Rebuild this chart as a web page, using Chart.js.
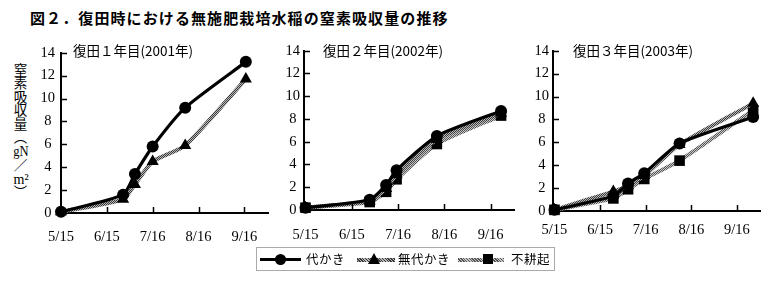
<!DOCTYPE html>
<html><head><meta charset="utf-8">
<script src="https://cdn.jsdelivr.net/npm/chart.js@4/dist/chart.umd.min.js"></script>
<style>
html,body{margin:0;padding:0;background:#fff;}
body{width:783px;height:284px;position:relative;overflow:hidden;font-family:"Noto Sans CJK JP",sans-serif;color:#000;}
#title{position:absolute;left:30px;top:7px;font-size:15px;font-weight:700;letter-spacing:1.1px;white-space:nowrap;}
.ptitle{position:absolute;top:40px;font-size:13.5px;white-space:nowrap;}
.ptitle .n{font-family:"Liberation Serif",serif;font-size:14.5px;}
#ylabel{position:absolute;left:13px;top:63px;writing-mode:vertical-rl;font-size:13.5px;line-height:1;white-space:nowrap;}
.tcy{text-combine-upright:all;font-family:"Liberation Serif",serif;font-size:14px;}
canvas{position:absolute;}
#legend{position:absolute;left:256px;top:247px;width:299px;height:24px;border:1px solid #aaa;box-sizing:border-box;}
#legend .ln{position:absolute;height:4px;top:10px;}
#legend .txt{position:absolute;top:3px;font-size:12.5px;line-height:16px;letter-spacing:0.5px;white-space:nowrap;}
#legend .mk{position:absolute;}
</style>
</head><body>
<div id="title">図２．復田時における無施肥栽培水稲の窒素吸収量の推移</div>
<div id="ylabel">窒素吸収量（<span class="tcy">gN</span>／<span class="tcy">m²</span>）</div>
<canvas id="c1" width="257" height="212" style="left:18px;top:38px"></canvas>
<canvas id="c2" width="260" height="212" style="left:262px;top:38px"></canvas>
<canvas id="c3" width="257" height="212" style="left:511px;top:38px"></canvas>
<div class="ptitle" id="t1" style="left:73px"></div>
<div class="ptitle" id="t2" style="left:323px"></div>
<div class="ptitle" id="t3" style="left:573px"></div>
<div id="legend">
  <div class="ln" style="left:3px;width:41px;background:#000;height:3px;top:10px"></div>
  <div class="mk" style="left:18px;top:6px;width:11px;height:11px;border-radius:50%;background:#000"></div>
  <div class="txt" id="lg0" style="left:49px"></div>
  <div class="ln" id="ln1" style="left:100px;width:38px"></div>
  <div class="mk" style="left:111px;top:5px;width:0;height:0;border-left:6px solid transparent;border-right:6px solid transparent;border-bottom:11px solid #000"></div>
  <div class="txt" id="lg1" style="left:141px"></div>
  <div class="ln" id="ln2" style="left:201px;width:46px"></div>
  <div class="mk" style="left:226px;top:6px;width:10px;height:10px;background:#000"></div>
  <div class="txt" id="lg2" style="left:254px"></div>
</div>
<script>
// ---- data ----
const tickDays = [0, 31, 62, 93, 124];            // days after 5/15
const tickLabels = ['5/15', '6/15', '7/16', '8/16', '9/16'];
const seriesNames = ['代かき', '無代かき', '不耕起'];
const panelTitles = ['復田１年目(2001年)', '復田２年目(2002年)', '復田３年目(2003年)'];
const yTicks = [0, 2, 4, 6, 8, 10, 12, 14];

const days2001 = [0, 42, 50, 62, 84, 125];
const shiro2001 = [0.1, 1.6, 3.4, 5.8, 9.2, 13.2];
const mushiro2001 = [0.1, 1.2, 2.5, 4.5, 5.9, 11.7];
const fukou2001 = [];   // no 不耕起 plot in year 1

const days2002 = [0, 43, 54, 61, 88, 131];
const shiro2002 = [0.2, 0.9, 2.2, 3.5, 6.5, 8.7];
const mushiro2002 = [0.2, 0.8, 1.9, 3.1, 6.2, 8.5];
const fukou2002 = [0.2, 0.7, 1.6, 2.7, 5.8, 8.3];

const days2003 = [0, 40, 50, 61, 85, 135];
const shiro2003 = [0.1, 1.3, 2.4, 3.3, 5.9, 8.2];
const mushiro2003 = [0.1, 1.7, 2.2, 3.1, 5.8, 9.4];
const fukou2003 = [0.1, 1.1, 1.9, 2.8, 4.4, 8.8];

// ---- helpers ----
function hatch(dark, light) {
  const c = document.createElement('canvas'); c.width = 4; c.height = 4;
  const g = c.getContext('2d');
  g.fillStyle = light; g.fillRect(0, 0, 4, 4);
  g.fillStyle = dark;
  for (let i = 0; i < 4; i++) { g.fillRect(i, i, 1, 1); g.fillRect((i + 2) % 4, i, 1, 1); }
  return g.createPattern(c, 'repeat');
}
const grayA = hatch('#3a3a3a', '#b8b8b8');
const grayB = hatch('#555555', '#c8c8c8');
document.getElementById('ln1').style.background = 'repeating-linear-gradient(45deg,#3a3a3a 0 1px,#b8b8b8 1px 2px)';
document.getElementById('ln2').style.background = 'repeating-linear-gradient(45deg,#555 0 1px,#c8c8c8 1px 2px)';
['lg0','lg1','lg2'].forEach((id, i) => document.getElementById(id).textContent = seriesNames[i]);
['t1','t2','t3'].forEach((id, i) => document.getElementById(id).textContent = panelTitles[i]);

const innerTicks = {
  id: 'innerTicks',
  afterDraw(chart) {
    const { ctx, chartArea: { left, bottom }, scales: { x, y } } = chart;
    ctx.save(); ctx.strokeStyle = '#000'; ctx.lineWidth = 1.5;
    y.ticks.forEach(t => {
      if (t.value === 0) return;
      const py = Math.round(y.getPixelForValue(t.value)) + 0.5;
      ctx.beginPath(); ctx.moveTo(left, py); ctx.lineTo(left + 6, py); ctx.stroke();
    });
    x.ticks.forEach(t => {
      if (t.value === 0) return;
      const px = Math.round(x.getPixelForValue(t.value)) + 0.5;
      ctx.beginPath(); ctx.moveTo(px, bottom); ctx.lineTo(px, bottom - 6); ctx.stroke();
    });
    ctx.restore();
  }
};

const tickFont = { family: '"Liberation Serif", serif', size: 14.5 };
Chart.defaults.color = '#000';

function pts(d, v) { return v.map((y, i) => ({ x: d[i], y })); }

function makeChart(id, days, s1, s2, s3, geom) {
  new Chart(document.getElementById(id), {
    type: 'line',
    data: {
      datasets: [
        { label: seriesNames[0], data: pts(days, s1), borderColor: '#000', backgroundColor: '#000',
          borderWidth: 3.2, pointStyle: 'circle', pointRadius: 6, pointBorderWidth: 0 },
        { label: seriesNames[1], data: pts(days, s2), borderColor: grayA, backgroundColor: '#000',
          borderWidth: 4, pointStyle: 'triangle', pointRadius: 7, pointBorderWidth: 0 },
        { label: seriesNames[2], data: pts(days, s3), borderColor: grayB, backgroundColor: '#000',
          borderWidth: 4, pointStyle: 'rect', pointRadius: 7.5, pointBorderWidth: 0 }
      ]
    },
    options: {
      responsive: false, animation: false, devicePixelRatio: 1,
      layout: { padding: { top: geom.top, right: 5, left: 0, bottom: 0 } },
      plugins: { legend: { display: false }, tooltip: { enabled: false } },
      elements: { line: { tension: 0.2 } },
      datasets: { line: { clip: false } },
      scales: {
        x: {
          type: 'linear', min: geom.xmin, max: 140,
          afterFit: s => { s.height = geom.xh; },
          afterBuildTicks: s => { s.ticks = tickDays.map(v => ({ value: v })); },
          ticks: { autoSkip: false, maxRotation: 0, padding: geom.xpad, font: tickFont,
                   callback: v => tickLabels[tickDays.indexOf(v)] },
          grid: { display: false, drawTicks: false },
          border: { display: true, color: '#000', width: 2 }
        },
        y: {
          min: 0, max: 14,
          afterFit: s => { s.width = geom.yw; },
          afterBuildTicks: s => { s.ticks = yTicks.map(v => ({ value: v })); },
          ticks: { padding: geom.ypad, crossAlign: 'center', font: tickFont },
          grid: { display: false, drawTicks: false },
          border: { display: true, color: '#000', width: 2 }
        }
      }
    },
    plugins: [innerTicks]
  });
}

makeChart('c1', days2001, shiro2001, mushiro2001, fukou2001, { top: 8, yw: 43, xh: 37, xpad: 15, ypad: 6, xmin: 0 });
makeChart('c2', days2002, shiro2002, mushiro2002, fukou2002, { top: 8, yw: 42, xh: 40, xpad: 16, ypad: 4, xmin: -1 });
makeChart('c3', days2003, shiro2003, mushiro2003, fukou2003, { top: 7, yw: 42, xh: 39, xpad: 10, ypad: 4, xmin: -1 });
</script>
</body></html>
